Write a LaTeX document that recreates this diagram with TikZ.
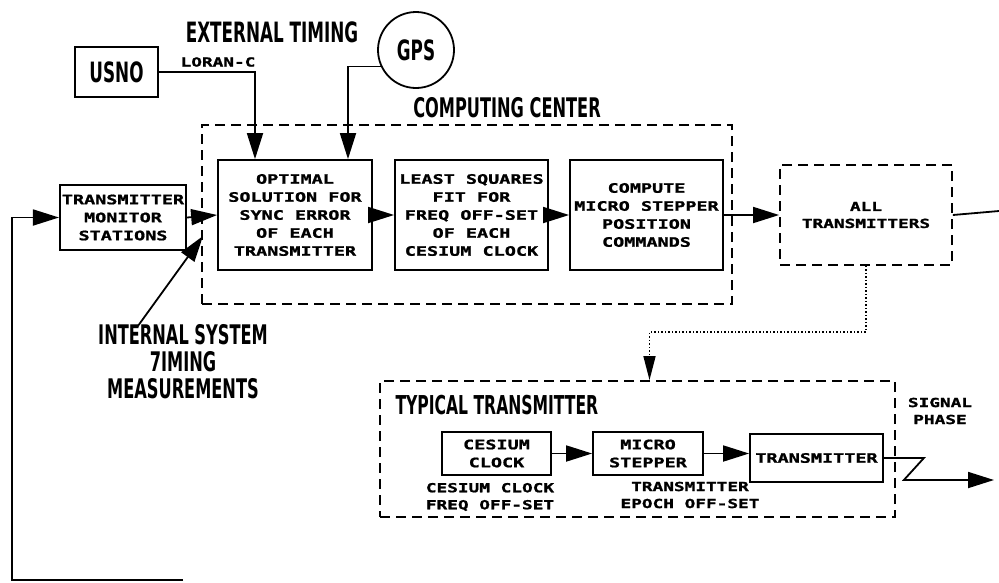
\documentclass[tikz,border=0pt]{standalone}
\usepackage{fontspec}
\usepackage{tikz}
\usetikzlibrary{positioning,arrows.meta,shapes.geometric}
\newfontfamily\boxfont[FakeStretch=1.42,FakeBold=1.3]{DejaVu Sans Mono Bold}
\newfontfamily\titlefont[FakeStretch=0.6]{DejaVu Sans}

\begin{document}
\begin{tikzpicture}[
    x=1pt, y=-1pt,
    box/.style={rectangle, draw=black, line width=1.8pt, fill=white,
                align=center, inner sep=2pt,
                font=\boxfont\fontsize{13}{18}\selectfont},
    dashbox/.style={rectangle, draw=black, line width=1.8pt,
                    dash pattern=on 10pt off 6pt},
    arrow/.style={-{Triangle[length=26pt, width=16pt]}, line width=1.8pt},
    dotarrow/.style={-{Triangle[length=24pt, width=12pt]}, line width=1.5pt,
                     dash pattern=on 1.5pt off 2pt},
    label/.style={align=center, font=\boxfont\fontsize{12.5}{17}\selectfont},
    title/.style={align=center, font=\titlefont\bfseries\fontsize{28}{28}\selectfont},
]
    \useasboundingbox (0,0) rectangle (999,582);

    % External timing sources
    \node[title] (ext) at (272,32) {EXTERNAL TIMING};
    \node[box, title, minimum width=83pt, minimum height=50pt] (usno) at (116.5,72) {USNO};
    \node[label] (loran) at (218,62) {LORAN-C};
    \node[circle, draw=black, line width=1.8pt, minimum size=76pt, title] (gps) at (416,50) {GPS};

    % Computing center
    \node[title, font=\titlefont\bfseries\fontsize{27}{28}\selectfont] (cclabel) at (507,108) {COMPUTING CENTER};
    \node[dashbox, minimum width=530pt, minimum height=179pt] (center) at (467,214.5) {};
    \node[box, minimum width=126pt, minimum height=65pt] (tms) at (123,217.5) {TRANSMITTER\\MONITOR\\STATIONS};
    \node[box, minimum width=154pt, minimum height=110pt] (optimal) at (295,215) {OPTIMAL\\SOLUTION FOR\\SYNC ERROR\\OF EACH\\TRANSMITTER};
    \node[box, minimum width=153pt, minimum height=110pt] (lsq) at (471.5,215) {LEAST SQUARES\\FIT FOR\\FREQ OFF-SET\\OF EACH\\CESIUM CLOCK};
    \node[box, minimum width=153pt, minimum height=110pt] (compute) at (646.5,215) {COMPUTE\\MICRO STEPPER\\POSITION\\COMMANDS};
    \node[dashbox, label, minimum width=172pt, minimum height=100pt] (alltx) at (866,215) {ALL\\TRANSMITTERS};

    % Internal timing
    \node[title, font=\titlefont\bfseries\fontsize{27}{27}\selectfont] (internal) at (183,362) {INTERNAL SYSTEM\\7IMING\\MEASUREMENTS};
    \coordinate (intin) at (203,236);

    % Typical transmitter
    \node[dashbox, minimum width=515pt, minimum height=136pt] (typical) at (637.5,449) {};
    \node[title, anchor=west, font=\titlefont\bfseries\fontsize{26}{26}\selectfont] (tylabel) at (392,405) {TYPICAL TRANSMITTER};
    \node[box, minimum width=109pt, minimum height=43pt] (cesium) at (496.5,453.5) {CESIUM\\CLOCK};
    \node[box, minimum width=110pt, minimum height=43pt] (micro) at (648,453.5) {MICRO\\STEPPER};
    \node[box, minimum width=133pt, minimum height=48pt] (xmtr) at (816.5,458) {TRANSMITTER};
    \node[label] (cesoff) at (490,497) {CESIUM CLOCK\\FREQ OFF-SET};
    \node[label] (epoch) at (690,495) {TRANSMITTER\\EPOCH OFF-SET};
    \node[label] (signal) at (940,411) {SIGNAL\\PHASE};
    \coordinate (sigout) at (994,480);

    % Loop ends
    \coordinate (outR) at (999,211);
    \coordinate (fbB) at (183,580);
    \coordinate (fbC) at (12,580);

    % Arrows
    \draw[arrow] (usno.east) -| ([xshift=-40pt]optimal.north);
    \draw[arrow] (gps.205) -| ([xshift=53pt]optimal.north);
    \draw[arrow] (tms.east) -- (optimal.west);
    \draw[arrow] ([xshift=-46pt,yshift=-6pt]internal.north) -- (intin);
    \draw[arrow] (optimal.east) -- (lsq.west);
    \draw[arrow] (lsq.east) -- (compute.west);
    \draw[arrow] (compute.east) -- (alltx.west);
    \draw[line width=1.8pt] (alltx.east) -- (outR);
    \draw[arrow] (fbB) -- (fbC) |- (tms.west);
    \draw[dotarrow] (alltx.south) -- ++(0,66) -| ([xshift=12pt]typical.north);
    \draw[arrow] (cesium.east) -- (micro.west);
    \draw[arrow] (micro.east) -- (micro.east -| xmtr.west);
    \draw[arrow] (xmtr.east) -- ++(40,0) -- ++(-20,22) -- (sigout);
\end{tikzpicture}
\end{document}
